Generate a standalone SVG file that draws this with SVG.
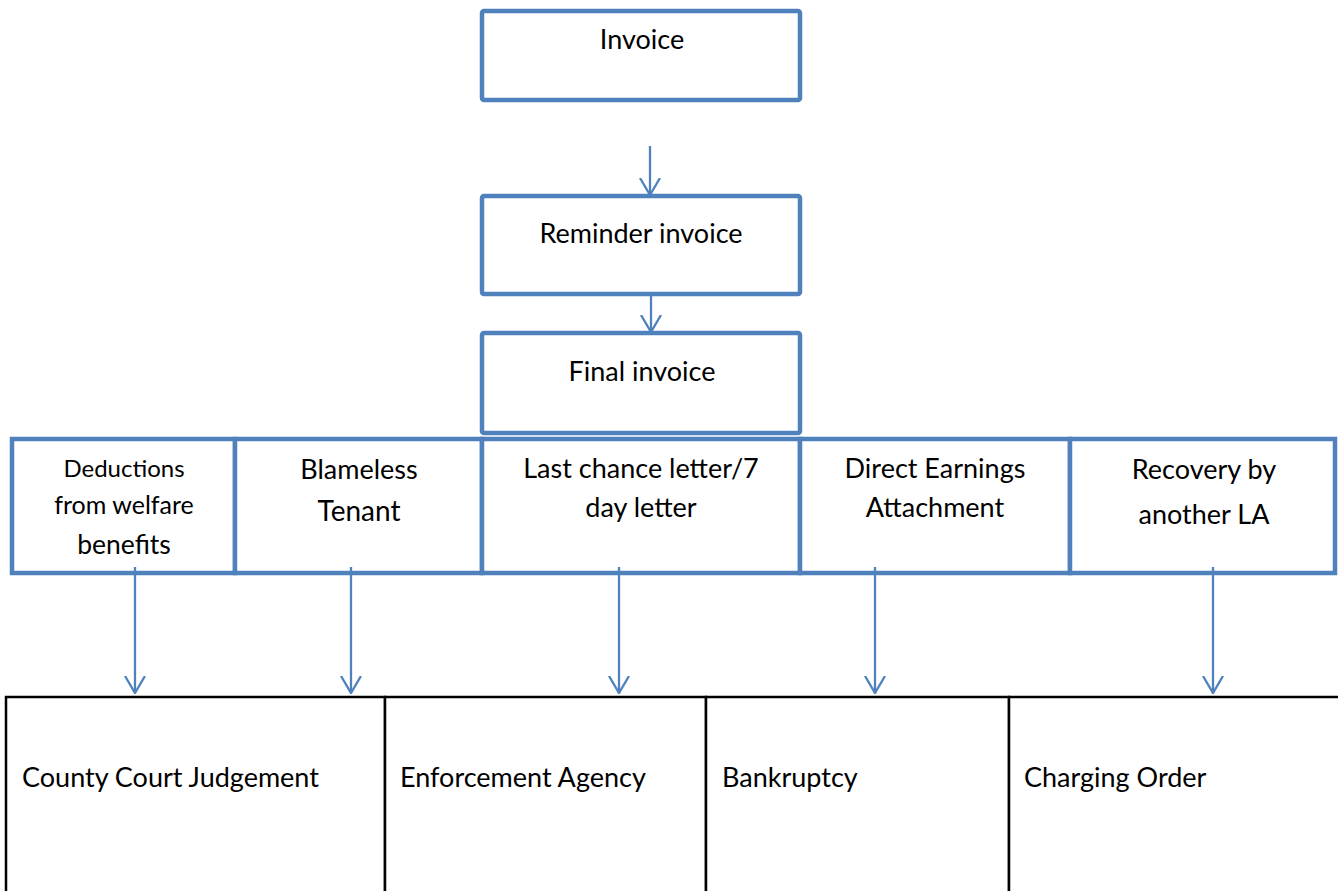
<svg xmlns="http://www.w3.org/2000/svg" width="1338" height="891" viewBox="0 0 1338 891">
<style>
.box{fill:#fff;stroke:#4F81BD;stroke-width:4.5;}
.bbox{fill:#fff;stroke:#000;stroke-width:2.5;}
.t{font-family:Lato,"Open Sans",sans-serif;fill:#000;text-anchor:middle;}
.tl{font-family:Lato,"Open Sans",sans-serif;fill:#000;font-size:27px;}
.c{fill:none;stroke:#4F81BD;stroke-width:2.3;}
</style>
<defs>
<marker id="ah" viewBox="0 0 18 22" refX="17" refY="11" markerWidth="18" markerHeight="22" markerUnits="userSpaceOnUse" orient="auto">
<path d="M0,1 L17,11 L0,21" fill="none" stroke="#4F81BD" stroke-width="2.3"/>
</marker>
</defs>
<g id="invoice"><rect class="box" x="482" y="11" width="318" height="89" rx="2"/><text class="t" x="642" y="49" font-size="27">Invoice</text></g>
<g id="reminder"><rect class="box" x="482" y="196" width="318" height="98" rx="2"/><text class="t" x="641" y="243" font-size="27">Reminder invoice</text></g>
<g id="final"><rect class="box" x="482" y="333" width="318" height="100" rx="2"/><text class="t" x="642" y="381" font-size="27">Final invoice</text></g>
<g id="deductions"><rect class="box" x="12" y="439" width="223" height="134"/><text class="t" x="124" y="477" font-size="24">Deductions</text><text class="t" x="124" y="514" font-size="25">from welfare</text><text class="t" x="124" y="554" font-size="26.5">benefits</text></g>
<g id="blameless"><rect class="box" x="235" y="439" width="247" height="134"/><text class="t" x="359" y="479" font-size="27">Blameless</text><text class="t" x="359" y="521" font-size="28">Tenant</text></g>
<g id="lastchance"><rect class="box" x="482" y="439" width="318" height="134"/><text class="t" x="641" y="478" font-size="27">Last chance letter/7</text><text class="t" x="641" y="517" font-size="27">day letter</text></g>
<g id="direct"><rect class="box" x="800" y="439" width="270" height="134"/><text class="t" x="935" y="478" font-size="27">Direct Earnings</text><text class="t" x="935" y="517" font-size="27">Attachment</text></g>
<g id="recovery"><rect class="box" x="1070" y="439" width="265" height="134"/><text class="t" x="1204" y="479" font-size="27">Recovery by</text><text class="t" x="1204" y="524" font-size="27">another LA</text></g>
<g id="ccj"><rect class="bbox" x="6" y="697" width="379" height="210"/><text class="tl" x="22" y="787">County Court Judgement</text></g>
<g id="enforcement"><rect class="bbox" x="385" y="697" width="321" height="210"/><text class="tl" x="400" y="787">Enforcement Agency</text></g>
<g id="bankruptcy"><rect class="bbox" x="706" y="697" width="303" height="210"/><text class="tl" x="722" y="787">Bankruptcy</text></g>
<g id="charging"><rect class="bbox" x="1009" y="697" width="340" height="210"/><text class="tl" x="1024" y="787">Charging Order</text></g>
<g id="connectors">
<line class="c" x1="650" y1="146" x2="650" y2="195" marker-end="url(#ah)"/>
<line class="c" x1="651" y1="292" x2="651" y2="332" marker-end="url(#ah)"/>
<line class="c" x1="135" y1="567" x2="135" y2="693" marker-end="url(#ah)"/>
<line class="c" x1="351" y1="567" x2="351" y2="693" marker-end="url(#ah)"/>
<line class="c" x1="619" y1="567" x2="619" y2="693" marker-end="url(#ah)"/>
<line class="c" x1="875" y1="567" x2="875" y2="693" marker-end="url(#ah)"/>
<line class="c" x1="1213" y1="567" x2="1213" y2="693" marker-end="url(#ah)"/>
</g>
</svg>
